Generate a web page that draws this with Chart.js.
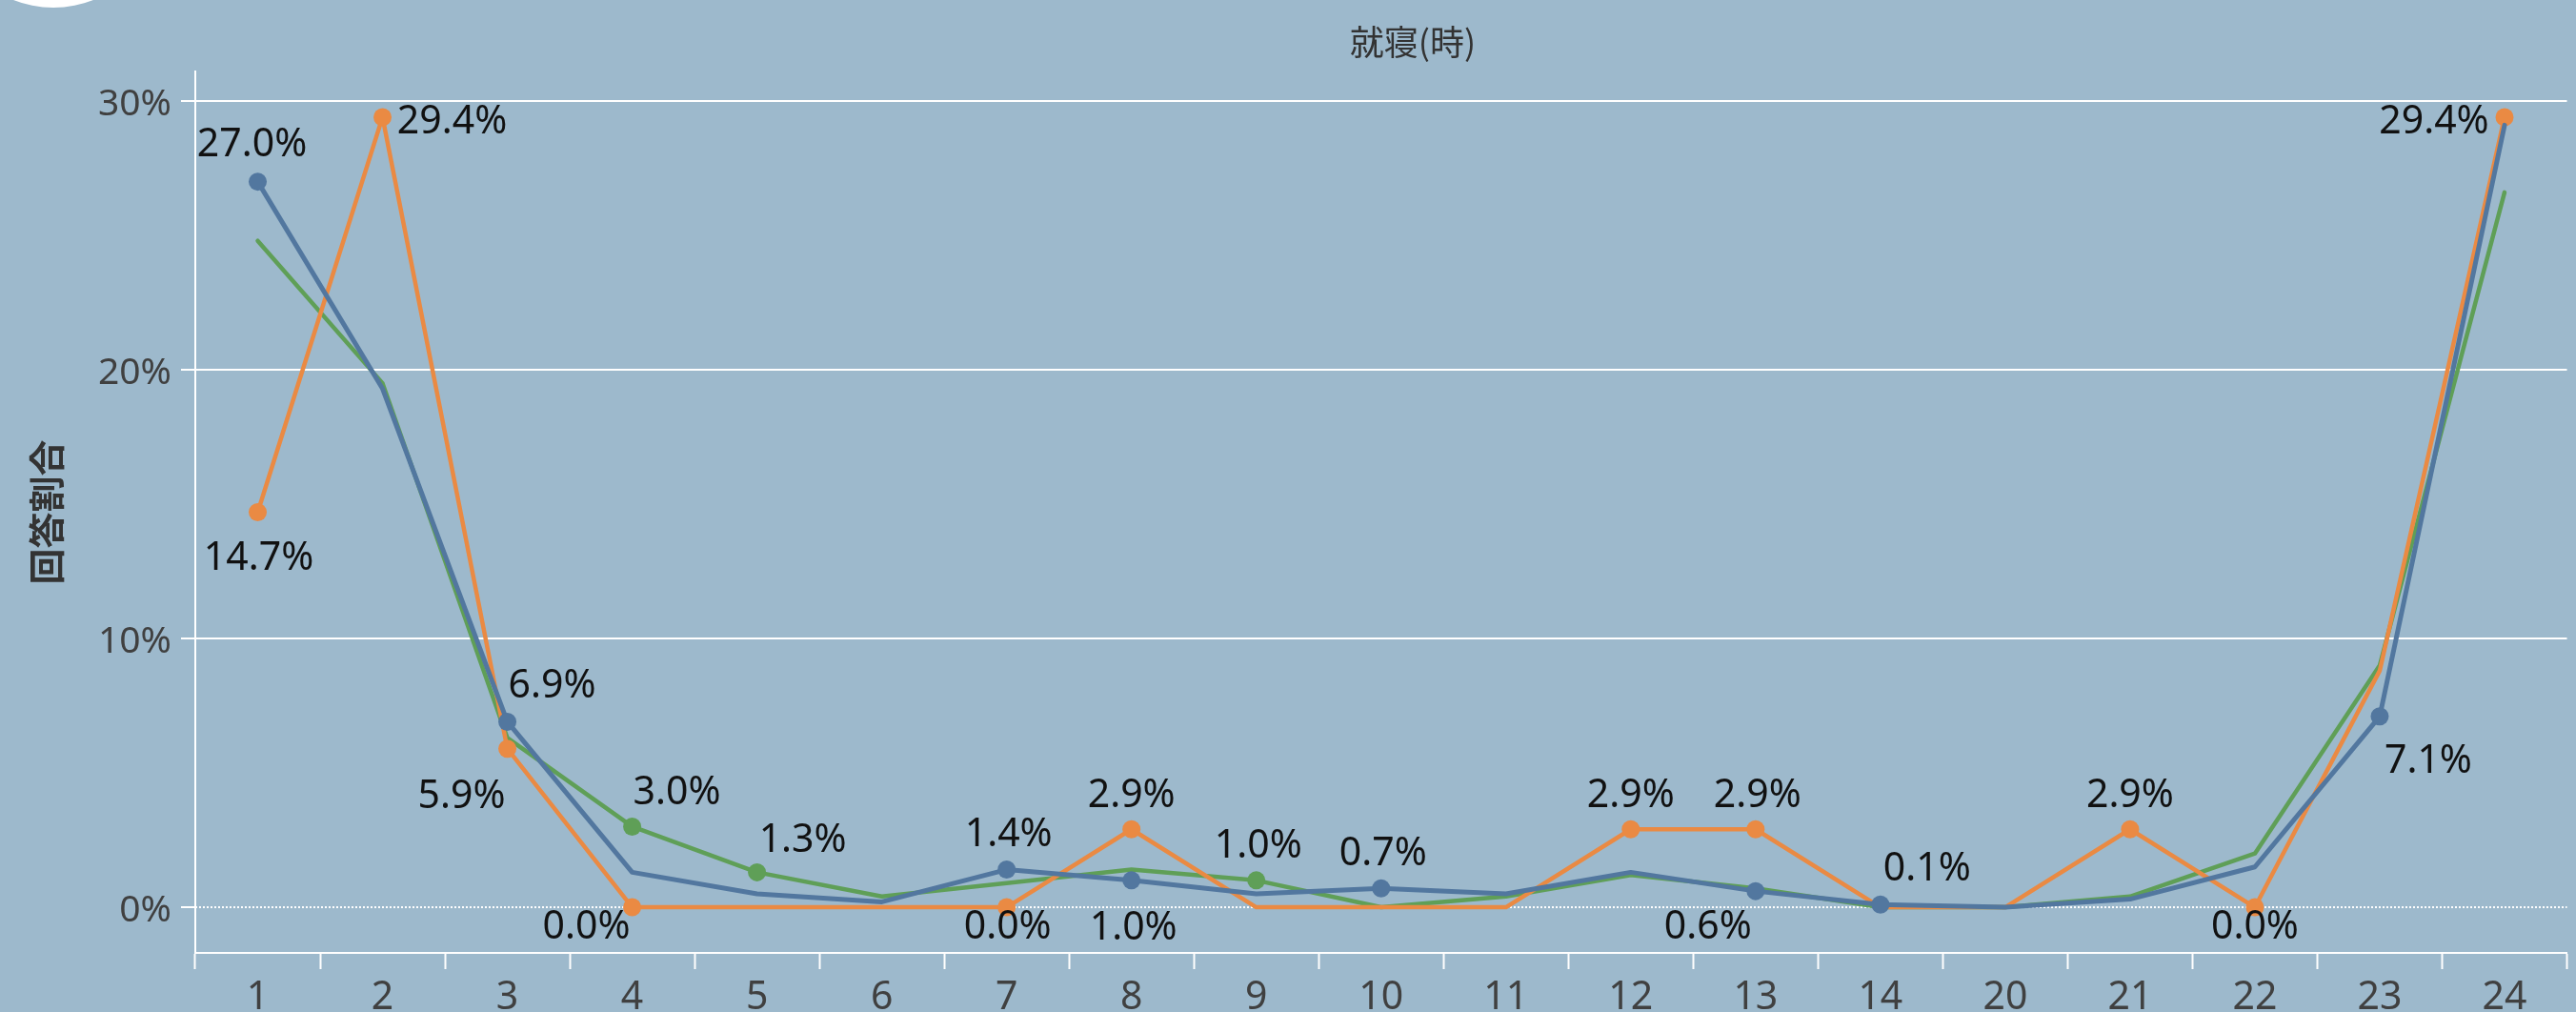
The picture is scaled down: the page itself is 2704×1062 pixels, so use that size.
<!DOCTYPE html>
<html>
<head>
<meta charset="utf-8">
<script src="https://cdn.jsdelivr.net/npm/chart.js@4.4.1/dist/chart.umd.min.js"></script>
<style>
  html, body { margin: 0; padding: 0; background: #9db9cc; }
  #wrap { width: 2704px; height: 1062px; position: relative; }
</style>
</head>
<body>
<div id="wrap"><canvas id="chart"></canvas></div>
<script>
// Données (% de réponses par heure de coucher)
const categories = ['1', '2', '3', '4', '5', '6', '7', '8', '9', '10', '11', '12', '13', '14', '20', '21', '22', '23', '24'];
const blueValues   = [27.0, 19.3, 6.9, 1.3, 0.5, 0.2, 1.4, 1.0, 0.5, 0.7, 0.5, 1.3, 0.6, 0.1, 0.0, 0.3, 1.5, 7.1, 29.1];
const orangeValues = [14.7, 29.4, 5.9, 0.0, 0.0, 0.0, 0.0, 2.9, 0.0, 0.0, 0.0, 2.9, 2.9, 0.0, 0.0, 2.9, 0.0, 8.8, 29.4];
const greenValues  = [24.8, 19.5, 6.3, 3.0, 1.3, 0.4, 0.9, 1.4, 1.0, 0.0, 0.4, 1.2, 0.7, 0.0, 0.0, 0.4, 2.0, 9.0, 26.6];
const yTicks = [0, 10, 20, 30];

// points marqués + étiquettes
const blueLabelIdx   = [0, 2, 6, 7, 9, 12, 13, 17];
const orangeLabelIdx = [0, 1, 2, 3, 6, 7, 11, 12, 15, 16, 18];
const greenLabelIdx  = [3, 4, 8];

const BLUE = '#52779f';
const ORANGE = '#ea8a43';
const GREEN = '#5f9f57';
const FONT = "'Noto Sans', 'Noto Sans CJK JP', sans-serif";

// décalage du centre de l'étiquette par rapport au point (px)
const labelOffsets = [
    { 0: [-6, -44], 2: [47, -43], 6: [2, -42], 7: [2, 44], 9: [2, -42], 12: [-50, 32], 13: [49, -43], 17: [51, 41] },
    { 0: [1, 43], 1: [73, -1], 2: [-48, 45], 3: [-48, 15], 6: [1, 15], 7: [0, -41], 11: [0, -41], 12: [2, -41], 15: [0, -41], 16: [0, 15], 18: [-74, -1] },
    { 3: [47, -41], 4: [48, -39], 8: [2, -42] }
];

function radiusFor(idx) {
    return ctx => idx.includes(ctx.dataIndex) ? 9.5 : 0;
}

const backgroundPlugin = {
    id: 'background',
    beforeDraw(chart) {
        const c = chart.ctx;
        c.save();
        c.fillStyle = '#9db9cc';
        c.fillRect(0, 0, chart.width, chart.height);
        // cercle blanc coupé en haut à gauche
        c.fillStyle = '#ffffff';
        c.beginPath();
        c.arc(56, -106, 114, 0, Math.PI * 2);
        c.fill();
        // titre
        c.fillStyle = '#333333';
        c.font = "36px 'Noto Sans CJK JP', sans-serif";
        c.textAlign = 'center';
        c.textBaseline = 'middle';
        c.fillText('就寝(時)', 1483, 44);
        c.restore();
    },
    beforeDatasetsDraw(chart) {
        // ligne 0% en pointillés
        const c = chart.ctx;
        const y0 = chart.scales.y.getPixelForValue(0);
        c.save();
        c.strokeStyle = '#ffffff';
        c.lineWidth = 2;
        c.setLineDash([2, 2]);
        c.beginPath();
        c.moveTo(chart.chartArea.left, y0);
        c.lineTo(chart.chartArea.right, y0);
        c.stroke();
        c.restore();
    }
};

const labelPlugin = {
    id: 'pointLabels',
    afterDatasetsDraw(chart) {
        const c = chart.ctx;
        c.save();
        c.font = '41px ' + FONT;
        c.fillStyle = '#111111';
        c.textAlign = 'center';
        c.textBaseline = 'middle';
        chart.data.datasets.forEach((ds, di) => {
            const meta = chart.getDatasetMeta(di);
            const offs = labelOffsets[di];
            Object.keys(offs).forEach(k => {
                const i = Number(k);
                const pt = meta.data[i];
                const [dx, dy] = offs[k];
                // +6 : le centre des chiffres est un peu au-dessus du milieu
                c.fillText(ds.data[i].toFixed(1) + '%', pt.x + dx, pt.y + dy + 6);
            });
        });
        c.restore();
    }
};

new Chart(document.getElementById('chart').getContext('2d'), {
    type: 'line',
    data: {
        labels: categories,
        datasets: [
            {
                label: '系列1',
                data: blueValues,
                borderColor: BLUE,
                backgroundColor: BLUE,
                borderWidth: 5,
                pointRadius: radiusFor(blueLabelIdx),
                pointBorderWidth: 0,
                borderJoinStyle: 'round',
                borderCapStyle: 'round'
            },
            {
                label: '系列2',
                data: orangeValues,
                borderColor: ORANGE,
                backgroundColor: ORANGE,
                borderWidth: 4.5,
                pointRadius: radiusFor(orangeLabelIdx),
                pointBorderWidth: 0,
                borderJoinStyle: 'round',
                borderCapStyle: 'round'
            },
            {
                label: '系列3',
                data: greenValues,
                borderColor: GREEN,
                backgroundColor: GREEN,
                borderWidth: 4.5,
                pointRadius: radiusFor(greenLabelIdx),
                pointBorderWidth: 0,
                borderJoinStyle: 'round',
                borderCapStyle: 'round'
            }
        ]
    },
    options: {
        responsive: true,
        maintainAspectRatio: false,
        animation: false,
        devicePixelRatio: 1,
        layout: { padding: { left: 0, right: 4, top: 75, bottom: 0 } },
        plugins: {
            legend: { display: false },
            tooltip: { enabled: false }
        },
        scales: {
            x: {
                offset: true,
                grid: {
                    offset: true,
                    drawOnChartArea: false,
                    drawTicks: true,
                    tickLength: 17,
                    tickColor: '#ffffff',
                    tickWidth: 2
                },
                border: { display: true, color: '#ffffff', width: 2 },
                ticks: {
                    color: '#404040',
                    font: { family: FONT, size: 41 },
                    padding: 6,
                    maxRotation: 0,
                    autoSkip: false
                },
                afterFit(scale) { scale.height = 62; }
            },
            y: {
                min: -1.7,
                max: 31.1,
                afterBuildTicks(scale) {
                    scale.ticks = yTicks.map(v => ({ value: v }));
                },
                grid: {
                    color: ctx => (ctx.tick && ctx.tick.value === 0) ? 'rgba(0,0,0,0)' : '#ffffff',
                    lineWidth: 2,
                    tickLength: 15,
                    tickColor: '#ffffff',
                    tickWidth: 2
                },
                border: { display: true, color: '#ffffff', width: 2 },
                ticks: {
                    color: '#404040',
                    font: { family: FONT, size: 39 },
                    padding: 10,
                    labelOffset: 4,
                    callback: v => v + '%'
                },
                title: {
                    display: true,
                    text: '回答割合',
                    color: '#333333',
                    font: { family: "'Noto Sans CJK JP', sans-serif", size: 38, weight: 'bold' },
                    padding: { top: 26, bottom: 0 }
                },
                afterFit(scale) { scale.width = 205; }
            }
        }
    },
    plugins: [backgroundPlugin, labelPlugin]
});
</script>
</body>
</html>
